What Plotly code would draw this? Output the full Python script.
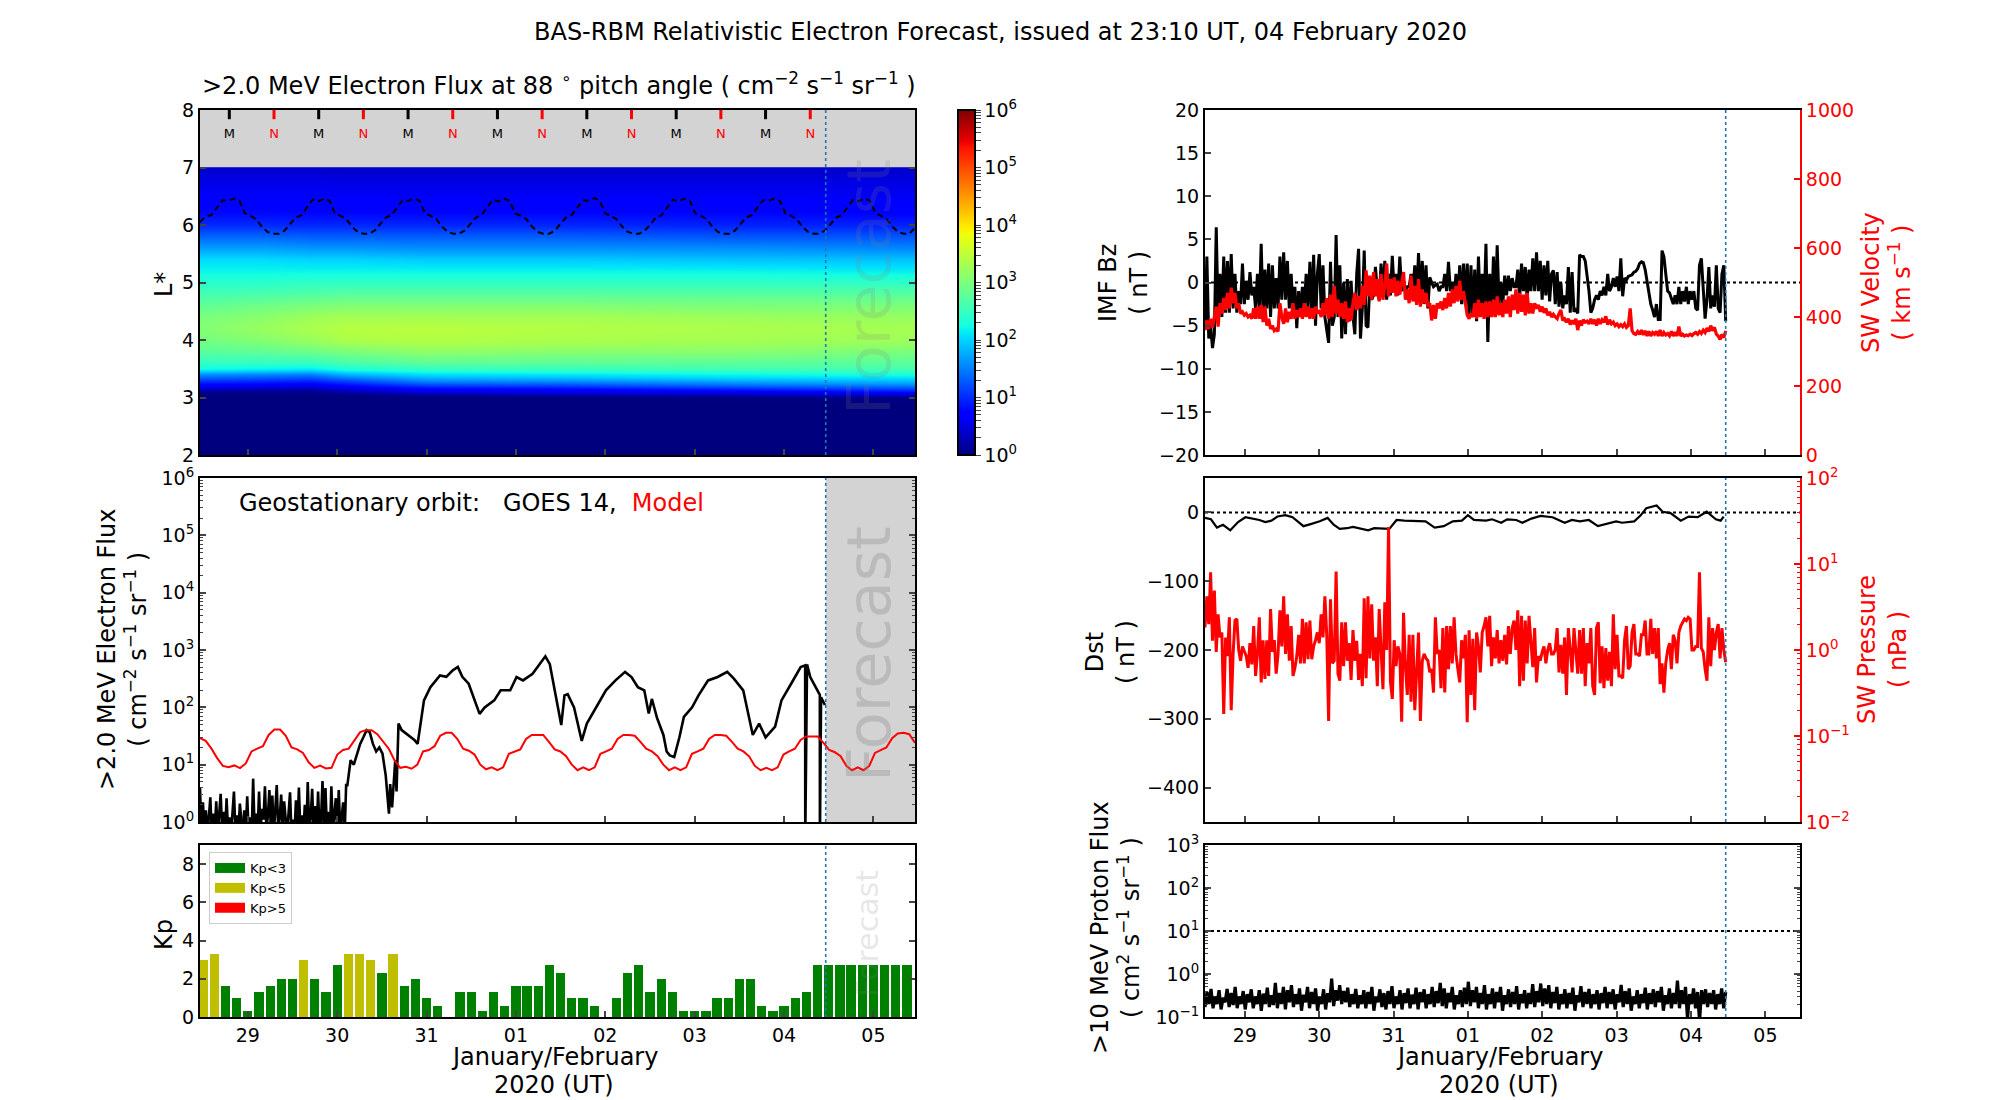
import numpy as np
import plotly.graph_objects as go

# ---------- shared time axis (days since 2020-01-29 00 UT) ----------
DAY_START = -0.035
DAY_END = 7.965
DAY_NOW = 6.966
day_ticks = [0.5, 1.5, 2.5, 3.5, 4.5, 5.5, 6.5, 7.5]
day_labels = ["29", "30", "31", "01", "02", "03", "04", "05"]

# ---------- L* heat map (log10 flux) ----------
heat_days = [-0.035, 0.6, 1.2, 1.6, 2.5, 4.0, 6.0, 7.965]
heat_L = [2.0, 2.9, 3.0, 3.05, 3.1, 3.15, 3.2, 3.25, 3.3, 3.35, 3.4, 3.5, 3.6, 3.8, 4.0, 4.2,
          4.4, 4.6, 4.8, 5.0, 5.2, 5.4, 5.6, 5.8, 6.0, 6.2, 6.5, 6.8, 6.99, 7.0]
heat_log_flux = [
    [0, 0, 0, 0, 0, 0, 0, 0],
    [0, 0, 0, 0, 0, 0, 0, 0],
    [0, 0, 0, 0, 0, 0, .02, .06],
    [.02, .02, .02, .05, .2, .3, .35, .45],
    [.1, .08, .08, .2, .45, .5, .55, .75],
    [.3, .25, .2, .4, .65, .7, .9, 1.1],
    [.6, .55, .5, .7, 1.0, 1.05, 1.25, 1.4],
    [.85, .8, .75, .95, 1.3, 1.35, 1.55, 1.7],
    [1.1, 1.05, 1.0, 1.2, 1.6, 1.65, 1.8, 1.9],
    [1.35, 1.3, 1.25, 1.5, 1.85, 1.9, 2.05, 2.1],
    [1.6, 1.55, 1.5, 1.8, 2.05, 2.1, 2.2, 2.3],
    [2.2, 2.15, 2.1, 2.3, 2.45, 2.5, 2.55, 2.6],
    [2.45, 2.45, 2.45, 2.6, 2.75, 2.75, 2.75, 2.75],
    [2.75, 2.8, 2.9, 3.0, 3.15, 3.1, 3.1, 3.0],
    [2.95, 3.05, 3.2, 3.35, 3.4, 3.35, 3.3, 3.25],
    [3.05, 3.2, 3.35, 3.42, 3.45, 3.4, 3.35, 3.3],
    [3.0, 3.1, 3.25, 3.3, 3.3, 3.3, 3.25, 3.2],
    [2.8, 2.9, 3.0, 3.05, 3.05, 3.05, 3.0, 3.0],
    [2.6, 2.65, 2.7, 2.75, 2.75, 2.75, 2.75, 2.75],
    [2.4, 2.4, 2.45, 2.45, 2.45, 2.45, 2.45, 2.45],
    [2.2, 2.2, 2.2, 2.2, 2.2, 2.2, 2.2, 2.15],
    [2.05, 2.05, 2.0, 2.0, 1.95, 1.95, 1.9, 1.9],
    [1.7, 1.7, 1.65, 1.65, 1.6, 1.6, 1.6, 1.55],
    [1.35, 1.35, 1.3, 1.3, 1.3, 1.3, 1.25, 1.25],
    [1.0, 1.0, .98, .98, .98, .98, .95, .95],
    [.8, .8, .78, .78, .78, .78, .78, .76],
    [.66, .66, .66, .64, .64, .64, .64, .62],
    [.52, .52, .52, .5, .5, .5, .5, .5],
    [.4, .4, .4, .4, .4, .4, .4, .4],
    [.38, .4, .4, .4, .4, .4, .4, .4],
]
# Dashed L* of geostationary orbit
lstar_geo = [
    6.05, 6.15, 6.17, 6.30, 6.43, 6.42, 6.46, 6.42, 6.20, 6.16, 6.10, 5.97, 5.88, 5.85, 5.85, 5.90,
    6.02, 6.13, 6.17, 6.30, 6.44, 6.41, 6.46, 6.42, 6.20, 6.16, 6.10, 5.97, 5.88, 5.85, 5.85, 5.90,
    6.02, 6.13, 6.17, 6.30, 6.43, 6.42, 6.46, 6.42, 6.20, 6.16, 6.10, 5.97, 5.88, 5.85, 5.85, 5.90,
    6.02, 6.13, 6.17, 6.30, 6.44, 6.41, 6.46, 6.42, 6.20, 6.16, 6.10, 5.97, 5.88, 5.85, 5.85, 5.90,
    6.02, 6.13, 6.17, 6.30, 6.43, 6.42, 6.47, 6.42, 6.20, 6.16, 6.10, 5.97, 5.88, 5.85, 5.85, 5.90,
    6.02, 6.13, 6.17, 6.30, 6.44, 6.41, 6.46, 6.42, 6.20, 6.16, 6.10, 5.97, 5.88, 5.85, 5.85, 5.90,
    6.02, 6.13, 6.17, 6.30, 6.43, 6.42, 6.46, 6.42, 6.20, 6.16, 6.10, 5.97, 5.88, 5.85, 5.85, 5.90,
    6.02, 6.13, 6.17, 6.30, 6.44, 6.41, 6.46, 6.42, 6.20, 6.16, 6.10, 5.97, 5.88, 5.85, 5.85, 5.95,
]
noon_days = [0.293, 1.293, 2.293, 3.293, 4.293, 5.293, 6.293]
midnight_days = [0.793, 1.793, 2.793, 3.793, 4.793, 5.793, 6.793]

# ---------- Geostationary flux ----------
goes_noise = [
    3.9, .6, 2.2, .6, 1.6, .7, 1.2, 2.7, .6, 1.4, .7, 2.3, .6, 1.3, 3.1, .7, 1.5, .6, 2.6, .7,
    1.2, .6, 1.8, 3.4, .7, 1.3, .6, 2.1, 1.1, .6, 1.6, .7, 2.8, .6, 1.2, .6, 5.7, .7, 1.4, .6,
    3.4, .7, 1.7, 1.1, 4.2, .7, 1.3, 3.6, .7, 2.9, .6, 1.8, 4.4, .7, 1.2, 3.0, .7, 2.3, 1.1, .6,
    1.4, 3.3, .6, 1.1, .6, 2.4, .6, 4.0, .7, 1.3, .6, 2.0, .6, 5.0, .7, 1.2, 3.8, .6, 1.9, .6,
    3.4, .7, 1.1, 5.2, .6, 3.9, .7, 1.5, .6, 4.2, .7, 1.2, 2.6, .6, 3.6, .7, 1.3, 2.2, .6, 4.4,
]
goes_days = [1.614, 1.65, 1.686, 1.721, 1.757, 1.793, 1.829, 1.864, 1.9, 1.936, 1.971, 2.007, 2.043,
             2.079, 2.093, 2.114, 2.15, 2.164, 2.186, 2.221, 2.293, 2.364, 2.4, 2.436, 2.471, 2.543,
             2.65, 2.721, 2.793, 2.85, 2.9, 2.971, 3.043, 3.093, 3.15, 3.257, 3.329, 3.436, 3.507,
             3.579, 3.686, 3.757, 3.829, 3.879, 3.936, 4.007, 4.043, 4.079, 4.15, 4.186, 4.236, 4.293,
             4.4, 4.507, 4.614, 4.721, 4.793, 4.864, 4.936, 4.986, 5.021, 5.079, 5.15, 5.186, 5.221,
             5.271, 5.329, 5.379, 5.471, 5.543, 5.65, 5.757, 5.864, 5.936, 6.043, 6.114, 6.15, 6.221,
             6.293, 6.4, 6.471, 6.579, 6.686, 6.736, 6.737, 6.757, 6.793, 6.9, 6.901, 6.914, 6.957]
goes_flux = [4.4, 12, 10, 15.5, 23, 30, 40, 37, 23, 17, 20, 15.5, 6.5, 1.4, 4.6, 1.8, 12, 3.4, 52, 40,
             33, 27, 23, 52, 132, 225, 360, 340, 442, 505, 340, 258, 132, 77, 100, 132, 198, 198, 338,
             295, 386, 540, 775, 565, 198, 49, 162, 170, 100, 58, 26, 52, 100, 198, 295, 415, 338, 225,
             198, 78, 140, 65, 33, 17, 14.5, 13.6, 30, 68, 100, 162, 295, 338, 415, 320, 198, 63, 33,
             52, 30, 46, 132, 258, 505, 540, 0.5, 560, 338, 165, 0.5, 150, 110]
model_flux = [
    29, 26, 19, 13, 9.5, 9, 9.7, 8.7, 10.5, 17, 19, 21, 33, 41, 41, 32,
    20, 18.5, 16, 11, 8.8, 9.6, 8.6, 8.8, 15, 18, 19, 27, 37, 40, 40, 34,
    25, 19, 12, 8.8, 9.2, 8.5, 10, 17, 18, 21, 32, 36, 36, 28, 19, 17.5,
    15, 10, 8.3, 9, 8, 9, 15.5, 17, 18.5, 28, 33, 33, 33, 25,
    18.5, 17, 14, 10, 8, 9, 8, 9, 15.5, 17, 19, 28, 33, 33, 32, 25,
    19, 17, 14, 10, 8, 9, 8, 9, 15.5, 17, 19, 28, 33, 33, 32, 25,
    19, 17, 14, 9.5, 8, 8.8, 8, 9, 15, 17, 19, 27, 31, 31, 31, 24,
    18, 16.5, 14, 9.5, 8, 9, 8, 9.5, 16, 18, 20, 29, 35, 36, 34, 24,
]

# ---------- Kp (3-hourly) ----------
kp_values = [3.0, 3.3, 1.6, 1.0, 0.3, 1.3, 1.6, 2.0, 2.0, 3.0, 2.0, 1.3, 2.7, 3.3, 3.3, 3.0,
             2.3, 3.3, 1.6, 2.0, 1.0, 0.6, 0, 1.3, 1.3, 0.3, 1.3, 0.6, 1.6, 1.6, 1.6, 2.7,
             2.3, 1.0, 1.0, 0.6, 0, 1.0, 2.3, 2.7, 1.3, 2.0, 1.3, 0.3, 0.3, 0.3, 1.0, 1.0,
             2.0, 2.0, 0.6, 0.3, 0.6, 1.0, 1.3, 2.7, 2.7, 2.7, 2.7, 2.7, 2.7, 2.7, 2.7, 2.7]
kp_days = [k * 0.125 for k in range(len(kp_values))]

# ---------- IMF Bz and solar wind ----------
imf_bz = [
    -5.5, 3.0, -6.5, -5, -7.6, -6, 6.4, -4, 1, -4, 3, -3.5, 2.5, -3.5, 3.3, -3, 1, -3.5, -1, -2.5,
    2.2, -2.5, .2, -2, 1.2, -1.5, -.5, -3, 1.0, -3, 4.5, -4, 1.5, -3, 2.2, -4, 2.0, -3, .5, -3,
    3.0, -2, 3.5, -2, 2.5, -3, 1, -3, -.5, -5.3, -1, -3.5, -.5, -3, 1, -3, 2.4, -3.5, 3.2, -5,
    1, 3.3, -3, 2, -4, -5.5, -7, 2.4, -5, -4, 5.5, -4, 2, -6.5, 0, -6, .4, -4.5, .2, -4,
    -6, 1, 3.9, -6.5, -3, 3.7, -5, -5.2, 0, -2, -1.5, 1.8, -1, -2, 2.2, -1.5, 2.5, -2, 1, -1.5,
    3.1, -1, 1, -1.5, 3, -1, 0, -1, -.5, -.5, 1, -1, 2, -2, 3.4, -2, 2.5, -2.5, 2, -3,
    .6, 0, -.5, -.3, -.2, -1, -.5, -.5, 1, -1, 2.4, -1, 0, -2, 1, -2, 2, -2.5, 2.2, -2.5,
    2.2, -4, 2, -4, 1.5, -4.5, 3, -3, 1, -3, 4.5, -6.9, 1, -4, 3, -3, 4.3, -2.5, 0, -2.5,
    .8, -1.5, .8, -1, .5, -.5,
    -.5, 1.5, -1.8, 2.2, -1, 1.8, -2, 1.5, -1, 2.8, -1, 3.5, -1, 2.5, -2, 2, -1.5, 2.5, -2.2, 1,
    1.4, -2.5, 1.2, -2.8, 0, -3, -1.5, -2.5, 1.8, -3.5, 1.2, -3.4, -3, -3.6, 3.2, 3, 3, 2.5, 1, -1,
    -3.5, -3, -2, -1.5, -2, -1, -1.5, -.5, -1.5, 1, -1, -.5, .5, -.5, .7, -1, 2.8, -1.6, .5, .3,
    .7, .8, .9, 1.2, 1.3, 1.6, 2.2, 2.4, 2.3, 1.5, .2, -1.5, -2.5, -3.2, -4, -2.5, -4.3, -4.3, 3.7, 3,
    1, -1, -1.2, -2, -2.5, -1.5, -2.5, -.5, -2.5, -1, -2.2, -.5, -2.5, -1, -2, -1, -3, -3.2, 2, 2.8,
    -1, -4.2, -2, 1.8, -3, -1.5, -2.8, 2, -3, -3.5, 1, 2, -4.5,
]
sw_velocity = [
    362, 390, 365, 395, 370, 400, 430, 372, 440, 410, 455, 420, 470, 425, 485, 440, 470, 425, 440, 410,
    415, 405, 410, 400, 405, 395, 425, 395, 430, 395, 435, 385, 430, 375, 395, 365, 375, 360, 365, 358,
    440, 400, 380, 425, 385, 415, 395, 440, 395, 420, 400, 425, 395, 440, 400, 430, 395, 425, 395, 430,
    410, 420, 400, 440, 405, 455, 395, 465, 400, 490, 410, 450, 400, 440, 395, 445, 385, 425, 390, 440,
    470, 420, 460, 425, 490, 435, 535, 460, 520, 450, 530, 460, 510, 445, 525, 450, 490, 555, 460, 510,
    470, 515, 460, 505, 465, 500, 530, 450, 480, 440, 520, 445, 490, 435, 510, 430, 480, 440, 470, 430,
    440, 390, 435, 395, 440, 425, 445, 420, 455, 425, 470, 430, 480, 440, 490, 445, 505, 450, 475, 440,
    405, 395, 410, 400, 440, 395, 450, 400, 440, 395, 445, 400, 445, 400, 450, 400, 460, 405, 440, 400,
    450, 410, 460, 400, 465, 420,
    480, 410, 470, 415, 465, 405, 470, 410, 440, 410, 440, 425, 435, 415, 430, 412, 425, 405, 415, 400,
    408, 400, 395, 410, 420, 390, 395, 385, 395, 378, 390, 380, 395, 362, 390, 375, 392, 385, 388, 380,
    395, 380, 392, 375, 395, 380, 392, 385, 402, 378, 392, 380, 385, 375, 380, 372, 378, 372, 380, 370,
    375, 425, 360, 352, 350, 358, 350, 362, 348, 360, 345, 358, 345, 355, 350, 358, 345, 362, 345, 355,
    348, 352, 345, 358, 345, 356, 345, 372, 345, 350, 345, 348, 346, 350, 346, 352, 355, 350, 358, 352,
    362, 355, 368, 358, 375, 360, 370, 350, 345, 335, 350, 340, 360,
]
dst_days = [-.035, .045, .126, .207, .305, .41, .508, .614, .695, .776, .858, .939, 1.045, 1.142, 1.224,
            1.289, 1.386, 1.508, 1.614, 1.695, 1.776, 1.874, 1.955, 2.037, 2.159, 2.24, 2.443, 2.541,
            2.646, 2.931, 3.053, 3.175, 3.297, 3.419, 3.5, 3.581, 3.744, 3.825, 3.947, 4.028, 4.15,
            4.232, 4.354, 4.476, 4.638, 4.801, 4.898, 5.004, 5.126, 5.248, 5.37, 5.492, 5.573, 5.736,
            5.817, 5.898, 6.037, 6.118, 6.224, 6.362, 6.467, 6.589, 6.711, 6.833, 6.898, 6.939]
dst_nt = [-8, -10, -22, -18, -26, -14, -7, -9, -11, -14, -12, -6, -4, -7, -15, -20, -17, -13, -8, -18,
          -24, -23, -21, -23, -26, -23, -24, -11, -12, -13, -22, -20, -13, -12, -4, -11, -12, -10, -15,
          -10, -11, -15, -9, -5, -7, -15, -11, -13, -11, -20, -17, -13, -15, -13, -5, 6, 10, 1, -1, -12,
          -6, -7, 1, -10, -12, -6]
sw_pressure = [
    1.83, 4.2, 2, 8, 1.28, 4.9, .95, 2.6, 1.4, 1.6, .18, 1.4, .85, 2.4, .2, .9, 2.2, 2.3, 1, .75,
    1.1, .95, .85, .62, 1.2, .68, 1.9, .5, .9, 2.4, .42, 1.3, .46, 1.3, .5, 3, .95, 1.3, .53, .9,
    2.9, 1.1, 4.2, .9, 2.6, .75, 1.9, .5, .62, .85, 1.5, .7, 2.3, .7, 2.1, .78, 2.2, .78, 1.1, 1.3,
    1.6, 1.2, 2.6, 1.4, 4.2, 1.5, .15, 3.9, .7, .75, 8.2, .53, .44, 2.1, .65, 2.1, .75, 1.2, .45, 1.7,
    .75, 1.28, .45, .9, .38, 4, .47, 4.2, .8, 3.4, .75, 1.4, .38, 3, .9, .35, 3.6, 1, 27, .43,
    .27, 1.3, .65, 1.1, .9, .147, 2.7, .65, .3, 1.5, .25, 1.5, .2, .7, 1.6, .15, .75, .9, .8, .75,
    .55, .6, .32, 2.4, .9, 1, .36, 1.8, .32, 1.9, .6, 1.9, .7, 2.4, .9, .6, .42, 1.3, .8, 1.5,
    .145, 1.7, .3, 1.35, .2, 1.6, 1.1, .55, 1.6, 1.9, 2.4, 1.1, 2.5, .65, 1.4, .8, 1.7, .7, 1.3, .75,
    1.5, .68, 1.9, .9, 1.8, 2.2,
    1, 2.9, .38, 2.5, .44, 2.2, .7, 2.5, 1.1, .63, 1.8, .42, .85, .75, .95, 1.1, .7, 1, 1.2, .9,
    .9, 1, 1.8, .55, 1.15, .53, 1.4, .3, 1.8, .9, .55, 1.8, .9, .53, 1.7, .53, 1.8, .38, 1.2, .7,
    1.8, .38, .3, 1.8, 2.1, .41, 1.1, .36, 1.05, .44, .95, .38, 2.6, .6, 1.5, .5, .5, .47, 1.3, 1.9,
    .6, .65, 1.6, 2, .9, .9, .85, 1.5, 1.5, 2.2, .9, .9, 2.3, .9, 1.8, .8, 1.8, .4, .7, .32,
    .7, 1, 1.2, .6, 1.5, 1.3, .7, 1.6, 1.9, 2.1, 2.3, 2.2, 2.4, 2.3, 1, 1, 1.1, 1.1, 8, 1.05,
    .95, .6, .44, 2.4, .65, 1.8, 1, 1.6, 2, .8, 1.8, 1, .72,
]
proton_flux = [
    .17, .38, .2, .45, .16, .3, .2, .42, .15, .28, .22, .45, .17, .36, .19, .5, .16, .3, .2, .4,
    .15, .34, .22, .44, .16, .3, .2, .42, .14, .35, .2, .48, .17, .32, .19, .62, .16, .36, .2, .5,
    .15, .42, .22, .55, .17, .34, .2, .46, .14, .33, .22, .5, .16, .38, .2, .46, .14, .3, .2, .44,
    .15, .36, .22, .78, .18, .42, .24, .55, .2, .4, .22, .48, .17, .34, .2, .45, .16, .32, .2, .42,
    .16, .38, .2, .5, .14, .3, .22, .44, .17, .36, .15, .4, .2, .52, .16, .3, .2, .42, .15, .36,
    .21, .46, .16, .33, .2, .48, .15, .38, .22, .44, .16, .34, .2, .5, .17, .4, .21, .62, .18, .46,
    .16, .36, .22, .5, .15, .32, .2, .42, .17, .48, .2, .66, .18, .42, .22, .5, .16, .36, .2, .55,
    .15, .34, .2, .46, .16, .38, .22, .5, .14, .32, .2, .44, .17, .38, .2, .52, .15, .34, .21, .42,
    .16, .36, .2, .58, .17, .4, .22, .6, .18, .46, .2, .55, .16, .38, .21, .5, .15, .34, .2, .44,
    .16, .36, .2, .48, .14, .32, .22, .52, .17, .38, .2, .45, .16, .34, .2, .42, .15, .36, .21, .5,
    .16, .38, .2, .44, .15, .34, .22, .56, .17, .4, .2, .46, .14, .3, .2, .42, .16, .34, .21, .48,
    .15, .36, .2, .44, .17, .4, .22, .5, .14, .32, .2, .46, .16, .36, .2, .7, .16, .42, .2, .5,
    .09, .34, .2, .46, .16, .38, .08, .42, .2, .44, .17, .36, .2, .42, .15, .34, .2, .46, .16, .38,
]
proton_days_end = DAY_NOW
PROTON_LIMIT = 10

# ---------- Styles ----------
FONT = "DejaVu Sans"
TICK_SIZE = 19
LABEL_SIZE = 24
FORECAST_BLUE = "#1f77b4"
PANEL_GRAY = "#d3d3d3"
RED = "#ff0000"
jet = [[0, "rgb(0,0,127)"], [.11, "rgb(0,0,255)"], [.125, "rgb(0,0,255)"], [.34, "rgb(0,219,255)"],
       [.35, "rgb(0,230,247)"], [.375, "rgb(20,255,226)"], [.64, "rgb(239,255,8)"], [.65, "rgb(247,245,0)"],
       [.66, "rgb(255,236,0)"], [.89, "rgb(255,19,0)"], [.91, "rgb(232,0,0)"], [1, "rgb(127,0,0)"]]


def fx(px):
    return px / 2000


def fy(py):
    return 1 - py / 1100


def sup_labels(lo, hi):
    return [f"10<sup>{str(e).replace('-', '−')}</sup>" for e in range(lo, hi + 1)]


def log_axis(lo, hi, **kw):
    major = [10.0 ** e for e in range(lo, hi + 1)]
    minor = [m * 10.0 ** e for e in range(lo, hi) for m in range(2, 10)]
    return dict(type="log", range=[lo, hi], tickmode="array", tickvals=major, ticktext=sup_labels(lo, hi),
                ticks="inside", ticklen=6, tickwidth=1.5, showgrid=False, zeroline=False,
                minor=dict(tickmode="array", tickvals=minor, ticks="inside", ticklen=3, tickwidth=1, showgrid=False),
                tickfont=dict(size=TICK_SIZE), **kw)


def lin_axis(lo, hi, tickvals, **kw):
    return dict(range=[lo, hi], tickmode="array", tickvals=tickvals, ticks="inside", ticklen=6, tickwidth=1.5,
                showgrid=False, zeroline=False, tickfont=dict(size=TICK_SIZE), **kw)


def time_axis(left, right, anchor, labels):
    return dict(domain=[fx(left), fx(right)], anchor=anchor, range=[DAY_START, DAY_END], tickmode="array",
                tickvals=day_ticks, ticktext=day_labels, showticklabels=labels, ticks="inside", ticklen=6,
                tickwidth=1.5, showgrid=False, zeroline=False, showline=True, linecolor="black", linewidth=2,
                mirror=True, tickfont=dict(size=TICK_SIZE))


def frame(lo_px, hi_px, mirror="ticks"):
    return dict(domain=[fy(hi_px), fy(lo_px)], showline=True, linecolor="black", linewidth=2, mirror=mirror)


LEFT, RIGHT = (200, 915), (1205, 1800)
ROW1, ROW2, ROW3 = (110, 455), (478, 822), (845, 1017)

fig = go.Figure()

# Heat map
cbar_ticks = [float(e) for e in range(0, 7)]
cbar_minor = [float(np.log10(m)) + e for e in range(0, 6) for m in range(2, 10)]
fig.add_trace(go.Heatmap(
    x=heat_days, y=heat_L, z=heat_log_flux, zmin=0, zmax=6, zsmooth="best", colorscale=jet, hoverinfo="skip",
    xaxis="x", yaxis="y",
    colorbar=dict(x=fx(958), xanchor="left", xref="paper", y=fy(ROW1[0]), yanchor="top", yref="paper",
                  len=(ROW1[1] - ROW1[0]) / 1100, lenmode="fraction", thickness=17, thicknessmode="pixels",
                  xpad=0, ypad=0, outlinewidth=2, outlinecolor="black", ticks="outside", ticklen=5, tickwidth=1,
                  tickmode="array", tickvals=cbar_ticks + cbar_minor,
                  ticktext=sup_labels(0, 6) + [""] * len(cbar_minor),
                  tickfont=dict(size=TICK_SIZE))))
fig.add_trace(go.Scatter(x=np.linspace(DAY_START, DAY_END, len(lstar_geo)), y=lstar_geo, mode="lines",
                         line=dict(color="black", width=2, dash="6px,4px"), xaxis="x", yaxis="y",
                         showlegend=False, hoverinfo="skip"))
for days, letter, color in ((noon_days, "M", "black"), (midnight_days, "N", RED)):
    tick_x, tick_y = [], []
    for d in days:
        tick_x += [d, d, None]
        tick_y += [8, 7.84, None]
    fig.add_trace(go.Scatter(x=tick_x, y=tick_y, mode="lines", line=dict(color=color, width=3), xaxis="x", yaxis="y",
                             showlegend=False, hoverinfo="skip"))
    fig.add_trace(go.Scatter(x=days, y=[7.57] * len(days), mode="text", text=[letter] * len(days),
                             textfont=dict(color=color, size=13), textposition="middle center", xaxis="x", yaxis="y",
                             showlegend=False, hoverinfo="skip"))

# Geostationary flux
noise_days = np.linspace(DAY_START, 1.6, len(goes_noise))
fig.add_trace(go.Scatter(x=list(noise_days) + goes_days, y=goes_noise + goes_flux, mode="lines",
                         line=dict(color="black", width=2.6), xaxis="x2", yaxis="y2", showlegend=False, hoverinfo="skip"))
fig.add_trace(go.Scatter(x=np.linspace(DAY_START, DAY_END, len(model_flux)), y=model_flux, mode="lines",
                         line=dict(color=RED, width=2), xaxis="x2", yaxis="y2", showlegend=False, hoverinfo="skip"))

# Kp bars
for name, color, test in (("Kp<3", "#008000", lambda v: v < 3), ("Kp<5", "#bfbf00", lambda v: 3 <= v < 5),
                          ("Kp>5", RED, lambda v: v >= 5)):
    picked = [(d, v) for d, v in zip(kp_days, kp_values) if test(v)]
    fig.add_trace(go.Bar(x=[p[0] for p in picked], y=[p[1] for p in picked], width=0.104,
                         marker=dict(color=color, line=dict(width=0)), xaxis="x3", yaxis="y3",
                         legendgroup=name, showlegend=False, hoverinfo="skip"))
    fig.add_trace(go.Scatter(x=[None], y=[None], mode="lines", line=dict(color=color, width=11), name=name,
                             legendgroup=name, xaxis="x3", yaxis="y3", hoverinfo="skip"))

# Right column
fig.add_trace(go.Scatter(x=np.linspace(DAY_START, DAY_NOW, len(imf_bz)), y=imf_bz, mode="lines",
                         line=dict(color="black", width=3), xaxis="x4", yaxis="y4", showlegend=False, hoverinfo="skip"))
fig.add_trace(go.Scatter(x=np.linspace(DAY_START, DAY_NOW, len(sw_velocity)), y=sw_velocity, mode="lines",
                         line=dict(color=RED, width=3.2), xaxis="x4", yaxis="y7", showlegend=False, hoverinfo="skip"))
fig.add_trace(go.Scatter(x=dst_days, y=dst_nt, mode="lines", line=dict(color="black", width=2.2), xaxis="x5", yaxis="y5",
                         showlegend=False, hoverinfo="skip"))
fig.add_trace(go.Scatter(x=np.linspace(DAY_START, DAY_NOW, len(sw_pressure)), y=sw_pressure, mode="lines",
                         line=dict(color=RED, width=3), xaxis="x5", yaxis="y8", showlegend=False, hoverinfo="skip"))
fig.add_trace(go.Scatter(x=np.linspace(DAY_START, proton_days_end, len(proton_flux)), y=proton_flux, mode="lines",
                         line=dict(color="black", width=3.2), xaxis="x6", yaxis="y6", showlegend=False, hoverinfo="skip"))

# Shapes
fig.add_shape(type="rect", xref="x", yref="y", x0=DAY_START, x1=DAY_END, y0=7, y1=8, fillcolor=PANEL_GRAY,
              line_width=0, layer="below")
fig.add_shape(type="rect", xref="x2", yref="y2 domain", x0=DAY_NOW, x1=DAY_END, y0=0, y1=1, fillcolor=PANEL_GRAY,
              line_width=0, layer="below")
for xa, ya, val in (("x4", "y4", 0), ("x5", "y5", 0), ("x6", "y6", PROTON_LIMIT)):
    fig.add_shape(type="line", xref=f"{xa} domain", yref=ya, x0=0, x1=1, y0=val, y1=val,
                  line=dict(color="black", width=2, dash="dot"), layer="below")
for xa, ya in (("x", "y"), ("x2", "y2"), ("x3", "y3"), ("x4", "y4"), ("x5", "y5"), ("x6", "y6")):
    fig.add_shape(type="line", xref=xa, yref=f"{ya} domain", x0=DAY_NOW, x1=DAY_NOW, y0=0, y1=1,
                  line=dict(color=FORECAST_BLUE, width=1.6, dash="dot"), layer="above")


def text(px, py, s, size, color="black", angle=0, xanchor="center"):
    fig.add_annotation(x=fx(px), y=fy(py), xref="paper", yref="paper", text=s, showarrow=False, textangle=angle,
                       font=dict(size=size, color=color, family=FONT), xanchor=xanchor, yanchor="middle", align="center")


UNIT = "( cm<sup>−2</sup> s<sup>−1</sup> sr<sup>−1</sup> )"
text(1001, 32, "BAS-RBM Relativistic Electron Forecast, issued at 23:10 UT, 04 February 2020", 24)
text(559, 84, ">2.0 MeV Electron Flux at 88 <sup>∘</sup> pitch angle ( cm<sup>−2</sup> s<sup>−1</sup> sr<sup>−1</sup> )", 24)
text(164, 285, "L*", LABEL_SIZE, angle=-90)
text(122, 650, ">2.0 MeV Electron Flux<br>" + UNIT, LABEL_SIZE, angle=-90)
text(164, 935, "Kp", LABEL_SIZE, angle=-90)
text(1123, 283, "IMF Bz<br>( nT )", LABEL_SIZE, angle=-90)
text(1886, 283, "SW Velocity<br>( km s<sup>−1</sup> )", LABEL_SIZE, color=RED, angle=-90)
text(1110, 652, "Dst<br>( nT )", LABEL_SIZE, angle=-90)
text(1882, 650, "SW Pressure<br>( nPa )", LABEL_SIZE, color=RED, angle=-90)
text(1115, 928, ">10 MeV Proton Flux<br>( cm<sup>2</sup> s<sup>−1</sup> sr<sup>−1</sup> )", LABEL_SIZE, angle=-90)
for centre in (554, 1499):
    text(centre, 1057, "January/February", LABEL_SIZE)
    text(centre, 1085, "2020 (UT)", LABEL_SIZE)
text(237, 503, 'Geostationary orbit:   GOES 14,  <span style="color:#ff0000">Model</span>', 24, xanchor="left")
text(869, 287, "Forecast", 60.5, color="rgba(128,128,128,0.18)", angle=-90)
text(869, 654, "Forecast", 60.5, color="rgba(128,128,128,0.3)", angle=-90)
text(867, 934, "Forecast", 30, color="rgba(128,128,128,0.2)", angle=-90)

fig.update_layout(
    width=2000, height=1100, margin=dict(l=0, r=0, t=0, b=0, autoexpand=False), paper_bgcolor="white", plot_bgcolor="white",
    font=dict(family=FONT, color="black"), barmode="overlay", bargap=0, hovermode=False,
    legend=dict(x=fx(209), y=fy(852), xanchor="left", yanchor="top", bgcolor="white", bordercolor="#cccccc",
                borderwidth=1, font=dict(size=13), traceorder="normal", itemwidth=30),
    xaxis=time_axis(*LEFT, "y", False),
    xaxis2=time_axis(*LEFT, "y2", False),
    xaxis3=time_axis(*LEFT, "y3", True),
    xaxis4=time_axis(*RIGHT, "y4", False),
    xaxis5=time_axis(*RIGHT, "y5", False),
    xaxis6=time_axis(*RIGHT, "y6", True),
    yaxis=dict(**lin_axis(2, 8, [2, 3, 4, 5, 6, 7, 8]), **frame(*ROW1), anchor="x"),
    yaxis2=dict(**log_axis(0, 6), **frame(*ROW2), anchor="x2"),
    yaxis3=dict(**lin_axis(0, 9, [0, 2, 4, 6, 8]), **frame(*ROW3), anchor="x3"),
    yaxis4=dict(**lin_axis(-20, 20, [-20, -15, -10, -5, 0, 5, 10, 15, 20]), **frame(*ROW1, mirror=False), anchor="x4"),
    yaxis5=dict(**lin_axis(-450, 50, [-400, -300, -200, -100, 0]), **frame(*ROW2, mirror=False), anchor="x5"),
    yaxis6=dict(**log_axis(-1, 3), **frame(*ROW3), anchor="x6"),
)
# Right-hand red axes
v_axis = lin_axis(0, 1000, [0, 200, 400, 600, 800, 1000])
v_axis["tickfont"] = dict(size=TICK_SIZE, color=RED)
fig.update_layout(yaxis7=dict(**v_axis, overlaying="y4", anchor="x4", side="right", showline=True, linecolor=RED,
                              linewidth=2, tickcolor=RED))
p_axis = log_axis(-2, 2)
p_axis["tickfont"] = dict(size=TICK_SIZE, color=RED)
p_axis["minor"]["tickcolor"] = RED
fig.update_layout(yaxis8=dict(**p_axis, overlaying="y5", anchor="x5", side="right", showline=True, linecolor=RED,
                              linewidth=2, tickcolor=RED))

fig.write_html("out.html", config=dict(displayModeBar=False), post_script="document.body.style.margin='0';")
